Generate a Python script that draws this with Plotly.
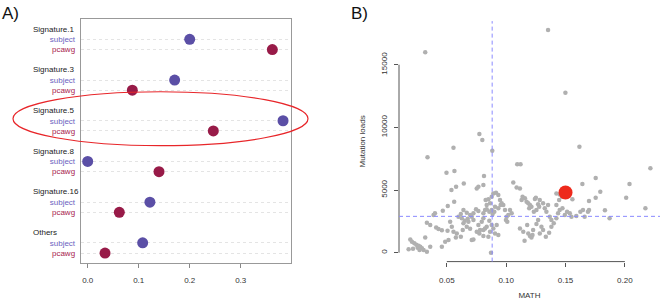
import plotly.graph_objects as go

# ---------------- Panel A data ----------------
signatures = ["Signature.1", "Signature.3", "Signature.5", "Signature.8", "Signature.16", "Others"]
subject_vals = [0.200, 0.1705, 0.383, 0.000, 0.122, 0.1078]
pcawg_vals = [0.362, 0.0875, 0.2463, 0.1398, 0.062, 0.034]
xticks_a = [0.0, 0.1, 0.2, 0.3]
xticklabels_a = ["0.0", "0.1", "0.2", "0.3"]
highlight_sig = "Signature.5"

# ---------------- Panel B data ----------------
math_vals = [
    0.0318, 0.1353, 0.1499, 0.0774, 0.0799, 0.0556, 0.1617, 0.0337, 0.0883, 0.1093, 0.1121, 0.2215,
    0.0497, 0.0564, 0.0643, 0.0578, 0.0539, 0.0562, 0.0508, 0.0466, 0.0400, 0.0388, 0.0332, 0.0360,
    0.0410, 0.0430, 0.0458, 0.0506, 0.0528, 0.0542, 0.0556, 0.0576, 0.0514, 0.0486, 0.0458, 0.0318,
    0.0192, 0.0206, 0.0226, 0.0243, 0.0262, 0.0276, 0.0254, 0.0290, 0.0304, 0.0332, 0.0360, 0.0178,
    0.0215, 0.0270,
    0.0618, 0.0640, 0.0668, 0.0696, 0.0598, 0.0626, 0.0651, 0.0676, 0.0710, 0.0724, 0.0746, 0.0766,
    0.0584, 0.0618, 0.0634, 0.0668, 0.0696, 0.0724, 0.0710, 0.0752, 0.0774, 0.0808, 0.0780,
    0.0640, 0.0682, 0.0724, 0.0766, 0.0794, 0.0808,
    0.0752, 0.0766, 0.0808, 0.0813,
    0.0827, 0.0850, 0.0836, 0.0864, 0.0878, 0.0892, 0.0914, 0.0934, 0.0948, 0.0962, 0.0953, 0.0934,
    0.0906, 0.0878, 0.0858, 0.0836, 0.0822, 0.0808, 0.0886, 0.0900,
    0.0872,
    0.0850, 0.0864, 0.0892, 0.0906, 0.0934, 0.0920, 0.0878, 0.0836, 0.0858, 0.0822, 0.0808,
    0.0976, 0.0990, 0.1004, 0.1018, 0.1032, 0.0998, 0.1009, 0.1046,
    0.1060,
    0.1088, 0.1116, 0.1138, 0.1130, 0.1158, 0.1172, 0.1186, 0.1200, 0.1213, 0.1194, 0.1233, 0.1255,
    0.1269, 0.1283, 0.1278, 0.1242, 0.1250, 0.1311, 0.1325, 0.1339, 0.1353, 0.1367, 0.1381, 0.1401,
    0.1423, 0.1437, 0.1451, 0.1423, 0.1446,
    0.1116, 0.1144, 0.1186, 0.1200, 0.1213, 0.1222, 0.1255, 0.1269, 0.1297, 0.1311, 0.1334, 0.1362,
    0.1381, 0.1283, 0.1227, 0.1177, 0.1155,
    0.1423, 0.1451, 0.1470, 0.1558,
    0.1474, 0.1513, 0.1536, 0.1494, 0.1550, 0.1591, 0.1625, 0.1647, 0.1689, 0.1698, 0.1661,
    0.1642, 0.1698, 0.1754, 0.1793, 0.1754, 0.1832, 0.1871, 0.2011, 0.2039, 0.2173,
]
load_vals = [
    15990, 17770, 12760, 9470, 8990, 8380, 8460, 7610, 8140, 7050, 7050, 6730,
    6380, 6520, 5530, 5270, 5000, 4070, 3720, 3350, 3140, 3000, 2390, 2200,
    2020, 1900, 1800, 1760, 2470, 2070, 1680, 1220, 1010, 880, 480, 1220,
    1060, 880, 745, 640, 560, 480, 400, 350, 210, 80, 480, 270,
    320, 210,
    3090, 3400, 3190, 3000, 2870, 2740, 2550, 2710, 2870, 3140, 3460, 3320,
    1540, 1280, 1810, 2070, 1910, 1060, 1010, 1680, 1540, 1330, 1810,
    2340, 2470, 2610, 2210, 2470, 2740,
    5130, 5270, 5400, 6120,
    4200, 4260, 3800, 3940, 4470, 4730, 4790, 4600, 4200, 3940, 3800, 3540,
    3670, 3400, 3270, 3460, 3400, 3140, 3090, 3270,
    0,
    1280, 1680, 1940, 1540, 1410, 2210, 2210, 2070, 2550, 1940, 1810,
    3800, 3400, 2870, 3000, 3400, 2610, 2470, 3140,
    5610,
    5210, 5130, 4470, 4200, 4340, 4070, 3940, 3800, 3670, 3540, 3270, 3400,
    3860, 4200, 3670, 4280, 4390, 3940, 3540, 3270, 3800, 2870, 2610, 2340,
    2740, 3140, 3400, 3800, 4200,
    1940, 1680, 1540, 1330, 1220, 1410, 2290, 2610, 2070, 1810, 1280, 1600,
    2070, 1540, 1810, 2210, 960,
    4730, 4650, 4470, 4260,
    3540, 3270, 3140, 3000, 2870, 2930, 3270, 3400, 3270, 3400, 2870,
    5480, 4120, 4390, 4870, 5960, 3380, 2740, 4390, 5480, 3540,
]
subject_math = [0.150]
subject_load = [4800]
math_cut = 0.0882
load_cut = 2900
xticks_b = [0.05, 0.10, 0.15, 0.20]
xticklabels_b = ["0.05", "0.10", "0.15", "0.20"]
yticks_b = [0, 5000, 10000, 15000]
yticklabels_b = ["0", "5000", "10000", "15000"]

SUBJ_COL = "#5b4fa6"
PCAWG_COL = "#981b48"
SUBJ_TXT = "#6b5fc0"
PCAWG_TXT = "#a8234f"
FONT = "Liberation Sans, Arial, sans-serif"

# rows for dot chart
label_rows = [4 * i for i in range(len(signatures))]
subj_rows = [4 * i + 1 for i in range(len(signatures))]
pcawg_rows = [4 * i + 2 for i in range(len(signatures))]

fig = go.Figure()

fig.add_trace(go.Scatter(x=subject_vals, y=subj_rows, mode="markers",
                         marker=dict(size=11, color=SUBJ_COL), xaxis="x", yaxis="y"))
fig.add_trace(go.Scatter(x=pcawg_vals, y=pcawg_rows, mode="markers",
                         marker=dict(size=11, color=PCAWG_COL), xaxis="x", yaxis="y"))

fig.add_trace(go.Scatter(x=math_vals, y=load_vals, mode="markers",
                         marker=dict(size=4.5, color="#b0b0b0"), xaxis="x2", yaxis="y2"))
fig.add_trace(go.Scatter(x=subject_math, y=subject_load, mode="markers",
                         marker=dict(size=14, color="#ee2a1c"), xaxis="x2", yaxis="y2"))

tickvals_a = []
ticktext_a = []
for r1, r2 in zip(subj_rows, pcawg_rows):
    tickvals_a += [r1, r2]
    ticktext_a += [f"<span style='color:{SUBJ_TXT}'>subject</span>",
                   f"<span style='color:{PCAWG_TXT}'>pcawg</span>"]

annotations = []
for name, r in zip(signatures, label_rows):
    annotations.append(dict(x=31 / 660, xref="paper", y=r, yref="y", text=name,
                            showarrow=False, xanchor="left", yanchor="middle",
                            font=dict(size=8, color="#222", family=FONT)))
annotations.append(dict(x=0.0, y=1 - 13 / 300, xref="paper", yref="paper", text="A)",
                        showarrow=False, xanchor="left", yanchor="middle",
                        font=dict(size=17, color="#111", family=FONT)))
annotations.append(dict(x=349 / 660, y=1 - 14 / 300, xref="paper", yref="paper", text="B)",
                        showarrow=False, xanchor="left", yanchor="middle",
                        font=dict(size=17, color="#111", family=FONT)))

hl = label_rows[signatures.index(highlight_sig)]
shapes = [
    # ellipse around highlighted signature
    dict(type="circle", xref="paper", yref="y", x0=13 / 660, x1=308 / 660,
         y0=hl - 1.85, y1=hl + 3.45, line=dict(color="#e8262a", width=1.2)),
    # R-style detached axis lines for panel B
    dict(type="line", xref="x2", yref="y2 domain", x0=xticks_b[0], x1=xticks_b[-1], y0=0, y1=0,
         line=dict(color="#555", width=1)),
    dict(type="line", xref="x2 domain", yref="y2", x0=0, x1=0, y0=yticks_b[0], y1=yticks_b[-1],
         line=dict(color="#555", width=1)),
    # cut-off lines
    dict(type="line", xref="x2", yref="y2 domain", x0=math_cut, x1=math_cut, y0=0, y1=1,
         line=dict(color="#8a8aff", width=1, dash="4px,3px")),
    dict(type="line", xref="x2 domain", yref="y2", x0=0, x1=1, y0=load_cut, y1=load_cut,
         line=dict(color="#8a8aff", width=1, dash="4px,3px")),
]

fig.update_layout(
    width=660, height=300, margin=dict(l=0, r=0, t=0, b=0),
    paper_bgcolor="white", plot_bgcolor="white", showlegend=False,
    font=dict(family=FONT, size=8, color="#333"),
    xaxis=dict(domain=[80.7 / 660, 291 / 660], range=[-0.0137, 0.3986],
               tickvals=xticks_a, ticktext=xticklabels_a, ticks="outside", ticklen=4,
               tickcolor="#888", showline=True, mirror=True, linecolor="#999", linewidth=1,
               showgrid=False, zeroline=False, ticklabelstandoff=6,
               tickfont=dict(size=8, color="#333")),
    yaxis=dict(domain=[1 - 262.7 / 300, 1 - 19 / 300], range=[22.95, -1.0],
               tickvals=tickvals_a, ticktext=ticktext_a, ticks="outside", ticklen=3,
               tickcolor="rgba(0,0,0,0)", showline=True, mirror=True, linecolor="#999",
               linewidth=1, showgrid=True, gridcolor="#e4e4e4", griddash="dot",
               zeroline=False, tickfont=dict(size=8)),
    xaxis2=dict(domain=[399 / 660, 1.0], range=[0.0097, 0.2296], anchor="y2",
                tickvals=xticks_b, ticktext=xticklabels_b, ticks="outside", ticklen=4,
                tickcolor="#555", showline=False, showgrid=False, zeroline=False,
                ticklabelstandoff=7, tickfont=dict(size=8, color="#333"),
                title=dict(text="MATH", font=dict(size=8, color="#333"), standoff=10)),
    yaxis2=dict(domain=[1 - 261.6 / 300, 1 - 21.1 / 300], range=[-711, 18480], anchor="x2",
                tickvals=yticks_b, ticktext=yticklabels_b, ticks="outside", ticklen=4,
                tickcolor="#555", showline=False, showgrid=False, zeroline=False,
                tickangle=-90, ticklabelstandoff=4, tickfont=dict(size=8, color="#333"),
                title=dict(text="Mutation loads", font=dict(size=8, color="#333"), standoff=12)),
    annotations=annotations, shapes=shapes,
)

fig.write_html("out.html", config={"displayModeBar": False},
               post_script="document.body.style.margin='0';document.body.style.padding='0';")
